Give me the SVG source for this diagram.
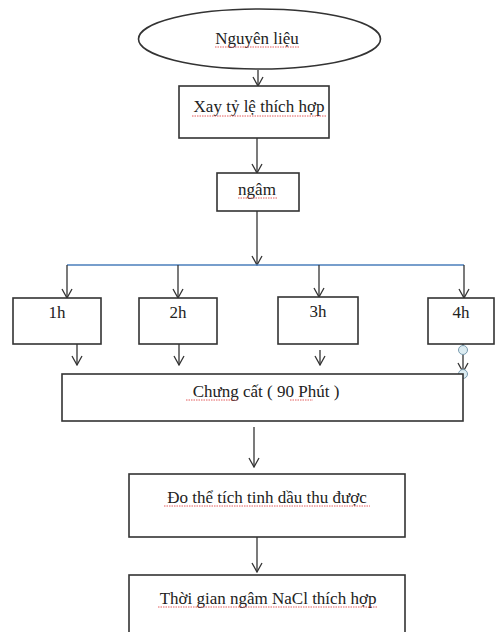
<svg xmlns="http://www.w3.org/2000/svg" width="496" height="632" viewBox="0 0 496 632">
<style>
.box{fill:#fff;stroke:#333;stroke-width:1.6}
.t{font-family:"Liberation Serif","Tinos","DejaVu Serif","Noto Serif",serif;font-size:17px;fill:#222;text-anchor:middle}
.c{fill:none;stroke:#333;stroke-width:1.3}
.blue{fill:none;stroke:#4a7ebb;stroke-width:1.3}
.sq{fill:none;stroke:#d33;stroke-width:0.8;stroke-dasharray:1.5 1}
.dot{fill:#dcecf2;stroke:#7a9cb0;stroke-width:1}
</style>
<defs>
<marker id="arr" viewBox="0 0 12 12" refX="11" refY="6" markerWidth="12" markerHeight="12" markerUnits="userSpaceOnUse" orient="auto">
<path d="M2,1 L11,6 L2,11" fill="none" stroke="#333" stroke-width="1.3"/>
</marker>
</defs>
<g id="connectors">
<line class="c" x1="258" y1="70" x2="258" y2="86" marker-end="url(#arr)"/>
<line class="c" x1="257" y1="138" x2="257" y2="173" marker-end="url(#arr)"/>
<line class="c" x1="257" y1="211" x2="257" y2="265" marker-end="url(#arr)"/>
<line class="blue" x1="67" y1="265" x2="464" y2="265"/>
<line class="c" x1="67" y1="265" x2="67" y2="298" marker-end="url(#arr)"/>
<line class="c" x1="178" y1="265" x2="178" y2="298" marker-end="url(#arr)"/>
<line class="c" x1="319" y1="265" x2="319" y2="297" marker-end="url(#arr)"/>
<line class="c" x1="464" y1="265" x2="464" y2="298" marker-end="url(#arr)"/>
<line class="c" x1="77" y1="344" x2="77" y2="365" marker-end="url(#arr)"/>
<line class="c" x1="179" y1="344" x2="179" y2="365" marker-end="url(#arr)"/>
<line class="c" x1="320" y1="350" x2="320" y2="365" marker-end="url(#arr)"/>
<line class="c" x1="463" y1="344" x2="463" y2="372" marker-end="url(#arr)"/>
<circle class="dot" cx="463" cy="350" r="4.5"/>
<circle class="dot" cx="463" cy="374" r="4.5"/>
<line class="c" x1="254" y1="427" x2="254" y2="467" marker-end="url(#arr)"/>
<line class="c" x1="257" y1="537" x2="257" y2="572" marker-end="url(#arr)"/>
</g>
<g id="n-nguyenlieu">
<ellipse class="box" cx="259.5" cy="39" rx="121" ry="30"/>
<text class="t" x="257" y="44">Nguyên liệu</text>
<path class="sq" d="M215,47 H300"/>
</g>
<g id="n-xay">
<rect class="box" x="179" y="86" width="150" height="52"/>
<text class="t" x="259" y="112">Xay tỷ lệ thích hợp</text>
<path class="sq" d="M192,116 H326"/>
</g>
<g id="n-ngam">
<rect class="box" x="217" y="173" width="82" height="38"/>
<text class="t" x="257" y="195">ngâm</text>
<path class="sq" d="M238,198 H277"/>
</g>
<g id="n-1h">
<rect class="box" x="13" y="298" width="88" height="46"/>
<text class="t" x="57" y="318">1h</text>
</g>
<g id="n-2h">
<rect class="box" x="139" y="298" width="78" height="46"/>
<text class="t" x="178" y="318">2h</text>
</g>
<g id="n-3h">
<rect class="box" x="278" y="297" width="80" height="47"/>
<text class="t" x="318" y="317">3h</text>
</g>
<g id="n-4h">
<rect class="box" x="428" y="298" width="66" height="46"/>
<text class="t" x="461" y="318">4h</text>
</g>
<g id="n-chungcat">
<rect class="box" x="62" y="374" width="401" height="47"/>
<text class="t" x="266" y="397">Chưng cất ( 90 Phút )</text>
<path class="sq" d="M186,400 H238 M290,400 H313"/>
</g>
<g id="n-do">
<rect class="box" x="129" y="474" width="276" height="63"/>
<text class="t" x="267" y="503">Đo thể tích tinh dầu thu được</text>
<path class="sq" d="M164,506 H370"/>
</g>
<g id="n-thoigian">
<rect class="box" x="129" y="575" width="276" height="62"/>
<text class="t" x="268" y="604">Thời gian ngâm NaCl thích hợp</text>
<path class="sq" d="M158,607 H378"/>
</g>
</svg>
